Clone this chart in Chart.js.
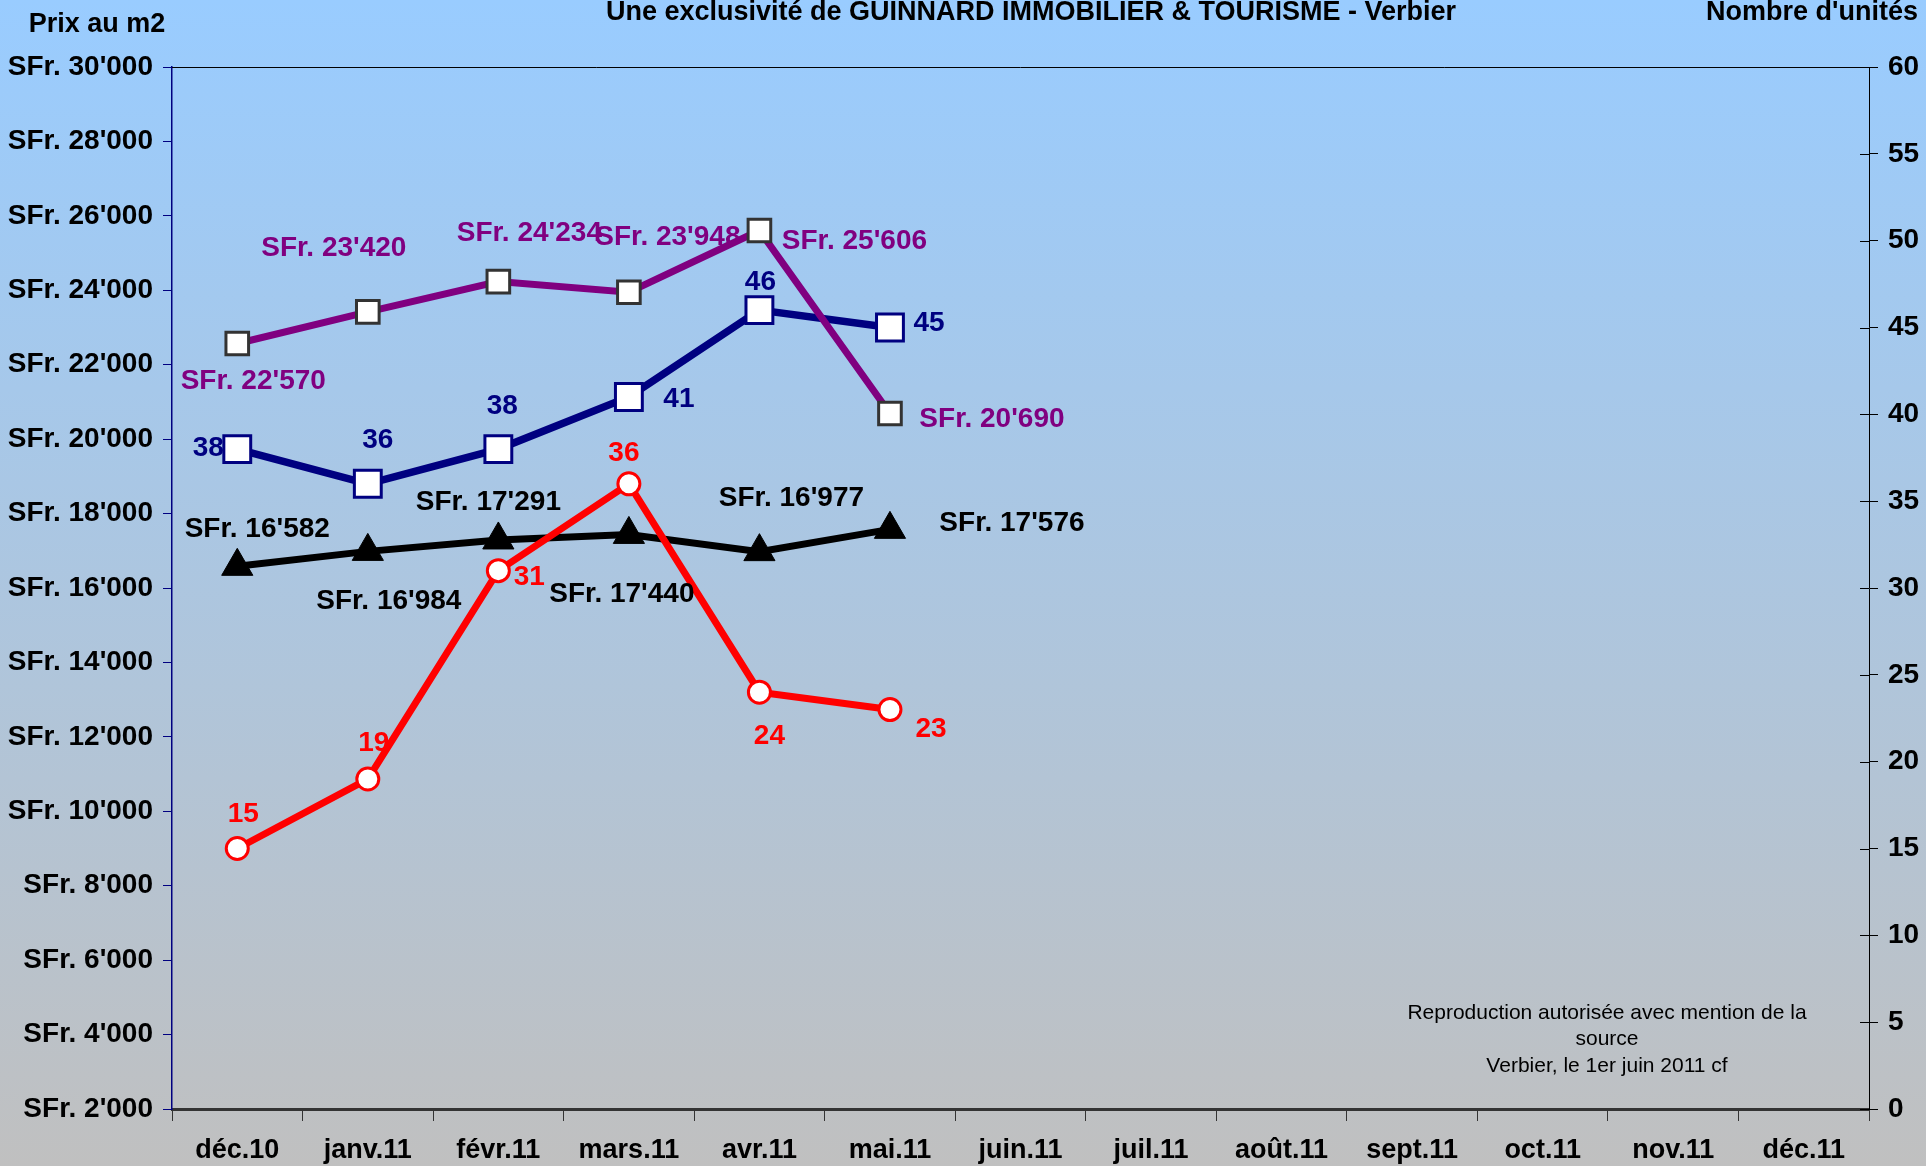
<!DOCTYPE html>
<html>
<head>
<meta charset="utf-8">
<script src="https://cdn.jsdelivr.net/npm/chart.js@4.4.1/dist/chart.umd.min.js"></script>
<style>
  html, body { margin: 0; padding: 0; background: #c0c0c0; }
  #wrap { width: 1926px; height: 1166px; }
</style>
</head>
<body>
<div id="wrap"><canvas id="verbierChart" width="1926" height="1166"></canvas></div>
<script>
// Months (category axis)
const months = ['déc.10', 'janv.11', 'févr.11', 'mars.11', 'avr.11', 'mai.11', 'juin.11',
    'juil.11', 'août.11', 'sept.11', 'oct.11', 'nov.11', 'déc.11'];

// Prix au m2 (left axis)
const prixSeriesA = [22570, 23420, 24234, 23948, 25606, 20690];   // purple
const prixSeriesB = [16582, 16984, 17291, 17440, 16977, 17576];   // black

// Nombre d'unités (right axis)
const unitesSeriesA = [38, 36, 38, 41, 46, 45];   // navy
const unitesSeriesB = [15, 19, 31, 36, 24, 23];   // red

const FONT = "'Liberation Sans Narrow', 'Liberation Sans', Arial, sans-serif";

function fmtPrix(v) {
    return 'SFr. ' + String(v).replace(/\B(?=(\d{3})+(?!\d))/g, "'");
}

// label offsets (px) from each point
const labelOffsets = {
    purple: [[16, 38], [-34, -64], [31, -48], [39, -55], [95, 11], [102, 6]],
    navy:   [[-29, -1], [10, -44], [4, -43], [50, 2], [1, -28], [39, -4]],
    black:  [[20, -37], [21, 50], [-10, -38], [-7, 60], [32, -53], [122, -6]],
    red:    [[6, -34], [6, -36], [31, 7], [-5, -31], [10, 44], [41, 20]]
};

const bgPlugin = {
    id: 'bgGradient',
    beforeDraw(chart) {
        const c = chart.ctx;
        const g = c.createLinearGradient(0, 0, 0, chart.height);
        g.addColorStop(0, '#99ccff');
        g.addColorStop(1, '#c0c0c0');
        c.save();
        c.fillStyle = g;
        c.fillRect(0, 0, chart.width, chart.height);
        c.restore();
    }
};

const framePlugin = {
    id: 'frameAndText',
    beforeDatasetsDraw(chart) {
        const c = chart.ctx;
        const a = chart.chartArea;
        c.save();
        // top border
        c.strokeStyle = '#000000';
        c.lineWidth = 1;
        c.beginPath();
        c.moveTo(a.left, a.top + 0.5);
        c.lineTo(a.right, a.top + 0.5);
        c.stroke();
        // inner ticks on right axis
        const yR = chart.scales.yR;
        yR.ticks.forEach((t, i) => {
            const y = Math.round(yR.getPixelForTick(i)) + 0.5;
            c.beginPath();
            c.moveTo(a.right - 9, y);
            c.lineTo(a.right, y);
            c.stroke();
        });
        c.restore();
    },
    afterDatasetsDraw(chart) {
        const c = chart.ctx;
        c.save();
        c.textAlign = 'center';
        c.textBaseline = 'middle';
        c.font = 'bold 28px ' + FONT;
        chart.data.datasets.forEach((ds, di) => {
            const meta = chart.getDatasetMeta(di);
            const offs = labelOffsets[ds.key];
            c.fillStyle = ds.borderColor;
            meta.data.forEach((pt, i) => {
                const txt = ds.yAxisID === 'y' ? fmtPrix(ds.data[i]) : String(ds.data[i]);
                c.fillText(txt, pt.x + offs[i][0], pt.y + offs[i][1]);
            });
        });

        // titles
        c.fillStyle = '#000000';
        c.font = 'bold 27px ' + FONT;
        c.textBaseline = 'middle';
        c.textAlign = 'center';
        c.fillText('Prix au m2', 97, 25);
        c.fillText('Une exclusivité de GUINNARD IMMOBILIER & TOURISME - Verbier', 1031, 13);
        c.textAlign = 'right';
        c.fillText("Nombre d'unités", 1918, 13);

        // note
        c.font = '21px ' + FONT;
        c.textAlign = 'center';
        c.fillText('Reproduction autorisée avec mention de la', 1607, 1013);
        c.fillText('source', 1607, 1039);
        c.fillText('Verbier, le 1er juin 2011 cf', 1607, 1066);
        c.restore();
    }
};

const ctx = document.getElementById('verbierChart');

new Chart(ctx, {
    type: 'line',
    data: {
        labels: months,
        datasets: [
            {
                key: 'purple',
                data: prixSeriesA,
                yAxisID: 'y',
                borderColor: '#800080',
                borderWidth: 7,
                pointStyle: 'rect',
                pointRadius: 16,
                pointBackgroundColor: '#ffffff',
                pointBorderColor: '#333333',
                pointBorderWidth: 3,
                order: 1
            },
            {
                key: 'red',
                data: unitesSeriesB,
                yAxisID: 'yR',
                borderColor: '#ff0000',
                borderWidth: 7,
                pointStyle: 'circle',
                pointRadius: 11,
                pointBackgroundColor: '#ffffff',
                pointBorderColor: '#ff0000',
                pointBorderWidth: 3,
                order: 2
            },
            {
                key: 'black',
                data: prixSeriesB,
                yAxisID: 'y',
                borderColor: '#000000',
                borderWidth: 7,
                pointStyle: 'triangle',
                pointRadius: 18,
                pointBackgroundColor: '#000000',
                pointBorderColor: '#000000',
                pointBorderWidth: 1,
                order: 3
            },
            {
                key: 'navy',
                data: unitesSeriesA,
                yAxisID: 'yR',
                borderColor: '#000080',
                borderWidth: 7.5,
                pointStyle: 'rect',
                pointRadius: 19,
                pointBackgroundColor: '#ffffff',
                pointBorderColor: '#000080',
                pointBorderWidth: 3,
                order: 4
            }
        ]
    },
    options: {
        responsive: false,
        animation: false,
        devicePixelRatio: 1,
        clip: false,
        layout: { padding: { top: 67, left: 0, right: 0, bottom: 0 } },
        elements: { line: { tension: 0 } },
        plugins: {
            legend: { display: false },
            title: { display: false },
            tooltip: { enabled: false }
        },
        scales: {
            x: {
                offset: true,
                grid: {
                    offset: true,
                    drawOnChartArea: false,
                    tickLength: 12,
                    color: '#333333',
                    lineWidth: 1
                },
                border: { color: '#333333', width: 3 },
                ticks: {
                    color: '#000000',
                    font: { family: FONT, size: 27, weight: 'bold' },
                    padding: 13,
                    maxRotation: 0,
                    autoSkip: false
                },
                afterFit(scale) { scale.height = 57; }
            },
            y: {
                position: 'left',
                min: 2000,
                max: 30000,
                grid: { drawOnChartArea: false, tickLength: 9, color: '#000080' },
                border: { color: '#000080', width: 1.5 },
                ticks: {
                    stepSize: 2000,
                    color: '#000000',
                    font: { family: FONT, size: 28, weight: 'bold' },
                    padding: 10,
                    callback: v => fmtPrix(v)
                },
                afterFit(scale) { scale.width = 172; }
            },
            yR: {
                position: 'right',
                min: 0,
                max: 60,
                grid: { drawOnChartArea: false, tickLength: 9, color: '#000000' },
                border: { color: '#000000', width: 1 },
                ticks: {
                    stepSize: 5,
                    color: '#000000',
                    font: { family: FONT, size: 28, weight: 'bold' },
                    padding: 10
                },
                afterFit(scale) { scale.width = 57; }
            }
        }
    },
    plugins: [bgPlugin, framePlugin]
});
</script>
</body>
</html>
